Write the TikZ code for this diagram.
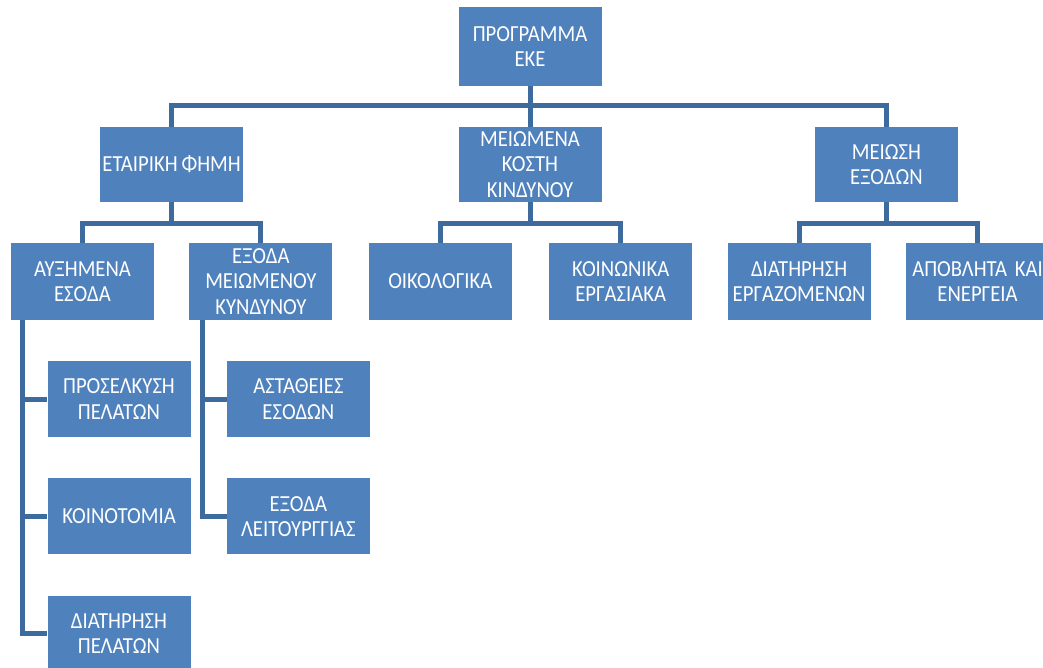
\documentclass[tikz,border=0pt]{standalone}
\usepackage{fontspec}
\setmainfont[FakeStretch=0.9]{Carlito}
\usepackage{xcolor}
\definecolor{cBox}{HTML}{4F81BD}
\definecolor{cLine}{HTML}{3D6B9E}
\usepackage{tikz}
\usetikzlibrary{positioning}
\tikzset{
  node-box/.style={fill=cBox,text=white,minimum width=143pt,minimum height=76pt,
    text width=143pt,inner xsep=0pt,inner ysep=0pt,align=center,
    font=\fontsize{23}{25.5}\selectfont},
  % tree connectors: thick, square joints
  link/.style={line width=5pt,draw=cLine,line join=miter},
}

\begin{document}
\begin{tikzpicture}[x=1pt,y=-1pt]
  \useasboundingbox (0,0) rectangle (1043,668);
  \clip (0,0) rectangle (1043,668);
  \node[node-box,minimum height=79pt]                        (root)    at (530,46.5) {ΠΡΟΓΡΑΜΜΑ\\ΕΚΕ};
  \node[node-box,minimum height=75pt,below=40.5pt of root]   (kosti)   {ΜΕΙΩΜΕΝΑ\\ΚΟΣΤΗ\\ΚΙΝΔΥΝΟΥ};
  \node[node-box,minimum height=75pt,left=215pt of kosti]    (fimi)    {ΕΤΑΙΡΙΚΗ\,ΦΗΜΗ};
  \node[node-box,minimum height=75pt,right=213pt of kosti]   (exodon)  {ΜΕΙΩΣΗ\\ΕΞΟΔΩΝ};
  \node[node-box,minimum height=77pt]                        (auxim)   at (82.5,281.5) {ΑΥΞΗΜΕΝΑ\\ΕΣΟΔΑ};
  \node[node-box,minimum height=77pt,right=35pt of auxim]    (exodam)  {ΕΞΟΔΑ\\ΜΕΙΩΜΕΝΟΥ\\ΚΥΝΔΥΝΟΥ};
  \node[node-box,minimum height=77pt,right=36pt of exodam]   (oikol)   {ΟΙΚΟΛΟΓΙΚΑ};
  \node[node-box,minimum height=77pt,right=37pt of oikol]    (koinon)  {ΚΟΙΝΩΝΙΚΑ\\ΕΡΓΑΣΙΑΚΑ};
  \node[node-box,minimum height=77pt,right=35pt of koinon]   (diater)  {ΔΙΑΤΗΡΗΣΗ\\ΕΡΓΑΖΟΜΕΝΩΝ};
  \node[node-box,minimum height=77pt,right=35pt of diater]   (apovl)   {ΑΠΟΒΛΗΤΑ~ΚΑΙ\\ΕΝΕΡΓΕΙΑ};
  \node[node-box]                                            (prosel)  at (119,399) {ΠΡΟΣΕΛΚΥΣΗ\\ΠΕΛΑΤΩΝ};
  \node[node-box,below=41pt of prosel]                       (koinot)  {ΚΟΙΝΟΤΟΜΙΑ};
  \node[node-box,below=41pt of koinot]                       (diatpel) {ΔΙΑΤΗΡΗΣΗ\\ΠΕΛΑΤΩΝ};
  \node[node-box,right=36pt of prosel]                       (astath)  {ΑΣΤΑΘΕΙΕΣ\\ΕΣΟΔΩΝ};
  \node[node-box,below=41pt of astath]                       (exodleit){ΕΞΟΔΑ\\ΛΕΙΤΟΥΡΓΓΙΑΣ};
  \coordinate (bar1) at (0,106);
  \coordinate (bar2) at (0,224);
  \coordinate (spineA) at ([xshift=12pt]auxim.south west);
  \coordinate (spineB) at ([xshift=13pt]exodam.south west);
  \draw[link] (root.south) -- (kosti.north);
  \draw[link] (fimi.north) |- (bar1 -| exodon) -- (exodon.north);
  \draw[link] (fimi.south) -- (fimi |- bar2);
  \draw[link] (auxim.north) |- (bar2 -| exodam) -- (exodam.north);
  \draw[link] (kosti.south) -- (kosti |- bar2);
  \draw[link] (oikol.north) |- (bar2 -| koinon) -- (koinon.north);
  \draw[link] (exodon.south) -- (exodon |- bar2);
  \draw[link] (diater.north) |- (bar2 -| apovl) -- (apovl.north);
  \draw[link] (spineA) |- (prosel.west);
  \draw[link] (spineA) |- (koinot.west);
  \draw[link] (spineA) |- (diatpel.west);
  \draw[link] (spineB) |- (astath.west);
  \draw[link] (spineB) |- (exodleit.west);
\end{tikzpicture}
\end{document}
